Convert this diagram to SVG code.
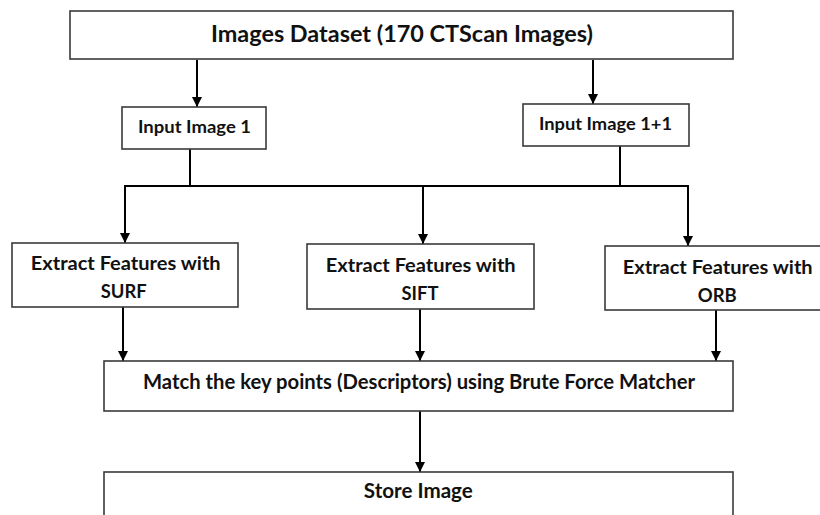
<svg xmlns="http://www.w3.org/2000/svg" width="820" height="515" viewBox="0 0 820 515">
  <defs>
    <marker id="arrow" viewBox="0 0 10 10" refX="10" refY="5" markerWidth="11" markerHeight="10" markerUnits="userSpaceOnUse" orient="auto">
      <path d="M0,0 L10,5 L0,10 z" fill="#000"/>
    </marker>
    <style>
      .box { fill: #fff; stroke: #3a3a3a; stroke-width: 1.6; }
      .lbl { font-family: Lato, "Liberation Sans", sans-serif; font-weight: bold; fill: #111; text-anchor: middle; }
      .conn line, .conn path { stroke: #000; stroke-width: 2; fill: none; }
      .arr { marker-end: url(#arrow); }
    </style>
  </defs>
  <rect width="820" height="515" fill="#fff"/>

  <g class="conn" id="connectors">
    <line class="arr" x1="197" y1="60" x2="197" y2="107"/>
    <line class="arr" x1="593" y1="60" x2="593" y2="104"/>
    <line x1="190" y1="149" x2="190" y2="186"/>
    <line x1="620" y1="146" x2="620" y2="186"/>
    <line x1="124" y1="186" x2="689" y2="186"/>
    <line class="arr" x1="125" y1="186" x2="125" y2="243"/>
    <line class="arr" x1="423" y1="186" x2="423" y2="244"/>
    <line class="arr" x1="688" y1="186" x2="688" y2="246"/>
    <line class="arr" x1="123" y1="307" x2="123" y2="361"/>
    <line class="arr" x1="420" y1="309" x2="420" y2="361"/>
    <line class="arr" x1="716" y1="310" x2="716" y2="361"/>
    <line class="arr" x1="420" y1="411" x2="420" y2="472"/>
  </g>

  <g id="dataset">
    <rect class="box" x="70" y="11" width="663" height="48"/>
    <text class="lbl" x="402" y="42" font-size="23" textLength="382" lengthAdjust="spacingAndGlyphs">Images Dataset (170 CTScan Images)</text>
  </g>
  <g id="input1">
    <rect class="box" x="122" y="107" width="144" height="42"/>
    <text class="lbl" x="194.5" y="133" font-size="16.5" textLength="113" lengthAdjust="spacingAndGlyphs">Input Image 1</text>
  </g>
  <g id="input2">
    <rect class="box" x="523" y="104" width="166" height="42"/>
    <text class="lbl" x="605.5" y="130" font-size="16.5" textLength="133" lengthAdjust="spacingAndGlyphs">Input Image 1+1</text>
  </g>
  <g id="surf">
    <rect class="box" x="12" y="243" width="226" height="64"/>
    <text class="lbl" x="125.7" y="270" font-size="18" textLength="190" lengthAdjust="spacingAndGlyphs">Extract Features with</text>
    <text class="lbl" x="123.7" y="298" font-size="18" textLength="46" lengthAdjust="spacingAndGlyphs">SURF</text>
  </g>
  <g id="sift">
    <rect class="box" x="307" y="244" width="227" height="65"/>
    <text class="lbl" x="420.7" y="271.5" font-size="18" textLength="190" lengthAdjust="spacingAndGlyphs">Extract Features with</text>
    <text class="lbl" x="420" y="300" font-size="18" textLength="37" lengthAdjust="spacingAndGlyphs">SIFT</text>
  </g>
  <g id="orb">
    <rect class="box" x="605" y="246" width="222" height="64"/>
    <text class="lbl" x="717.7" y="274" font-size="18" textLength="190" lengthAdjust="spacingAndGlyphs">Extract Features with</text>
    <text class="lbl" x="717.3" y="301.5" font-size="18" textLength="39" lengthAdjust="spacingAndGlyphs">ORB</text>
  </g>
  <g id="match">
    <rect class="box" x="104" y="361" width="629" height="50"/>
    <text class="lbl" x="419" y="389" font-size="20" textLength="552" lengthAdjust="spacingAndGlyphs">Match the key points (Descriptors) using Brute Force Matcher</text>
  </g>
  <g id="store">
    <rect class="box" x="104" y="472" width="629" height="60"/>
    <text class="lbl" x="418.3" y="498" font-size="20" textLength="109" lengthAdjust="spacingAndGlyphs">Store Image</text>
  </g>
</svg>
